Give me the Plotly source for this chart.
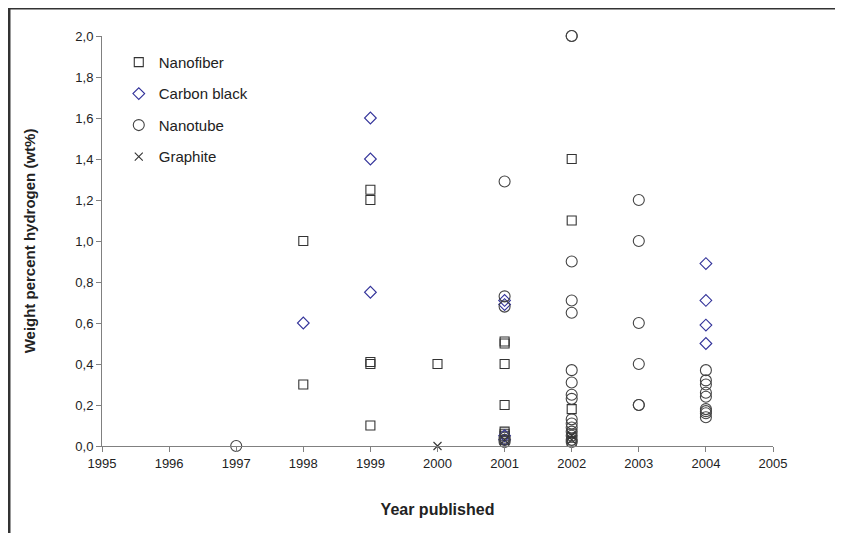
import plotly.graph_objects as go

# ─── 데이터 ────────────────────────────────────────────────────────────
NANOFIBER_X = [1998, 1998, 1999, 1999, 1999, 1999, 1999, 2000,
               2001, 2001, 2001, 2001, 2001, 2001, 2001, 2001,
               2002, 2002, 2002, 2002, 2002, 2002]
NANOFIBER_Y = [1.0, 0.3, 1.25, 1.2, 0.4, 0.41, 0.1, 0.4,
               0.5, 0.51, 0.4, 0.2, 0.07, 0.06, 0.05, 0.03,
               1.4, 1.1, 0.18, 0.06, 0.04, 0.02]

CARBON_X = [1998, 1999, 1999, 1999, 2001, 2001, 2001, 2001,
            2004, 2004, 2004, 2004]
CARBON_Y = [0.6, 1.6, 1.4, 0.75, 0.71, 0.69, 0.05, 0.03,
            0.89, 0.71, 0.59, 0.5]

NANOTUBE_X = [1997,
              2001, 2001, 2001, 2001, 2001, 2001,
              2002, 2002, 2002, 2002, 2002, 2002, 2002, 2002,
              2002, 2002, 2002, 2002, 2002, 2002, 2002, 2002,
              2003, 2003, 2003, 2003, 2003, 2003,
              2004, 2004, 2004, 2004, 2004, 2004, 2004, 2004, 2004]
NANOTUBE_Y = [0.0,
              1.29, 0.73, 0.68, 0.04, 0.03, 0.02,
              2.0, 2.0, 0.9, 0.71, 0.65, 0.37, 0.31, 0.25,
              0.23, 0.13, 0.11, 0.09, 0.07, 0.05, 0.03, 0.02,
              1.2, 1.0, 0.6, 0.4, 0.2, 0.2,
              0.37, 0.32, 0.3, 0.26, 0.24, 0.18, 0.17, 0.16, 0.14]

GRAPHITE_X = [2000, 2001, 2002, 2002]
GRAPHITE_Y = [0.0, 0.03, 0.05, 0.03]

X_TICKS = list(range(1995, 2006))
Y_TICKS = [0.0, 0.2, 0.4, 0.6, 0.8, 1.0, 1.2, 1.4, 1.6, 1.8, 2.0]

FONT = "Liberation Sans, Arial, sans-serif"

SERIES = [
    ("Nanofiber",    NANOFIBER_X, NANOFIBER_Y, "square-open",  9,  "#333333"),
    ("Carbon black", CARBON_X,    CARBON_Y,    "diamond-open", 9,  "#33339a"),
    ("Nanotube",     NANOTUBE_X,  NANOTUBE_Y,  "circle-open",  11, "#444444"),
    ("Graphite",     GRAPHITE_X,  GRAPHITE_Y,  "x-thin-open",  8,  "#333333"),
]

fig = go.Figure()
for name, xs, ys, sym, size, col in SERIES:
    fig.add_trace(go.Scatter(
        x=xs, y=ys, mode="markers", name=name, legendgroup=name,
        marker=dict(symbol=sym, size=size, color=col,
                    line=dict(color=col, width=1.1)),
        cliponaxis=False,
    ))

# 바깥 테두리 (왼쪽/위만 보임) — 페이지 body 여백 8px 감안
fig.add_shape(type="rect", xref="paper", yref="paper",
              x0=-0.1386, x1=1.2, y0=-0.4, y1=1.0683,
              line=dict(color="#333333", width=3))

fig.update_layout(
    width=835, height=525,
    margin=dict(l=94, r=70, t=28, b=87),
    paper_bgcolor="white", plot_bgcolor="white",
    separators=", ",
    font=dict(family=FONT, size=12, color="#222222"),
    showlegend=True,
    legend=dict(x=0.025, y=0.976, xanchor="left", yanchor="top",
                font=dict(size=15, color="#222222"),
                tracegroupgap=9, bgcolor="rgba(0,0,0,0)"),
)
fig.update_xaxes(range=[1995, 2005], tickvals=X_TICKS, showgrid=False,
                 showline=True, linecolor="#808080", linewidth=1,
                 ticks="outside", ticklen=5, tickcolor="#808080",
                 zeroline=False, tickfont=dict(size=13),
                 title=dict(text="<b>Year published</b>", font=dict(size=16),
                            standoff=34))
fig.update_yaxes(range=[0, 2.0], tickvals=Y_TICKS, tickformat=".1f",
                 showgrid=False, showline=True, linecolor="#808080",
                 linewidth=1, ticks="outside", ticklen=5, tickcolor="#808080",
                 zeroline=False, tickfont=dict(size=13),
                 title=dict(text="<b>Weight percent hydrogen (wt%)</b>",
                            font=dict(size=15), standoff=36))

fig.write_html("out.html")
